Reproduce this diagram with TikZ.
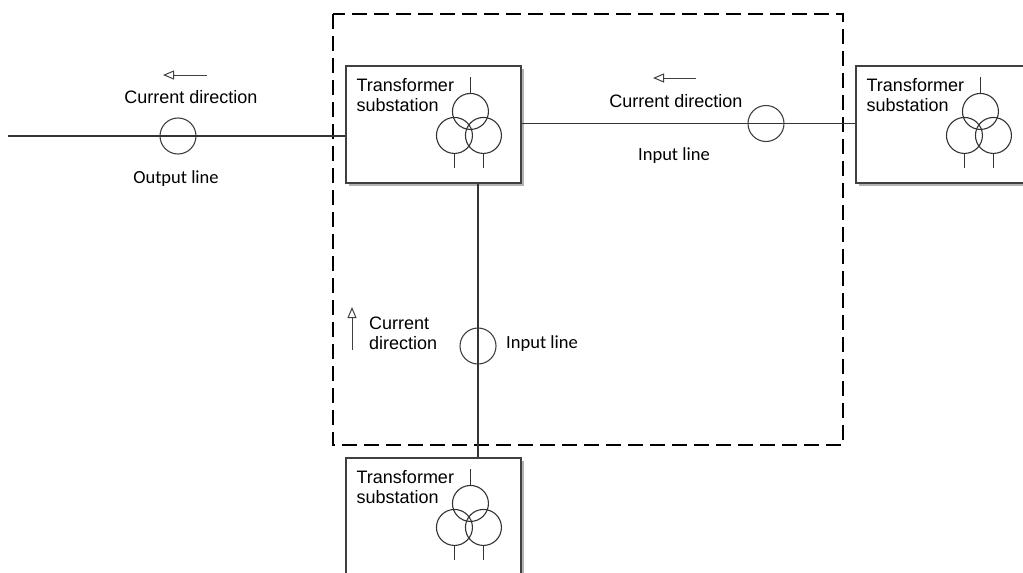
\documentclass[tikz,border=0pt]{standalone}
\usepackage{fontspec}
\setmainfont{Liberation Sans}
\newfontfamily\linefont{Carlito}
\usetikzlibrary{arrows.meta}
\usetikzlibrary{shadows}

\begin{document}
\begin{tikzpicture}[x=1pt,y=-1pt,
  every node/.style={inner sep=0pt,font=\fontsize{18}{20.5}\selectfont},
  substation/.style={draw=black!75,fill=white,line width=1.1pt,minimum width=175pt,minimum height=117pt,
    drop shadow={shadow xshift=2.5pt,shadow yshift=-2.5pt,fill=black!30,opacity=1}},
  ct/.style={draw=black!75,line width=1.1pt,circle,minimum size=36pt},
  wire/.style={black!80,line width=1.1pt},
  flow/.style={black!75,line width=1pt,-{Triangle[open,length=11pt,width=9pt]}},
  tag/.style={font=\linefont\fontsize{18.5}{21}\selectfont}]
  \useasboundingbox (0,0) rectangle (1023,573);

  % dashed zone round the middle substation
  \draw[line width=2.5pt,dash pattern=on 15pt off 7pt] (333,14) rectangle (843,445);

  % substations
  \node[substation] (main)  at (433.5,124.5) {};
  \node[substation] (east)  at (943.5,124.5) {};
  \node[substation] (south) at (433.5,516.5) {};

  \foreach \s in {main,east,south} {
    \node[anchor=north west,align=left] at ([shift={(11,12.5)}]\s.north west) {Transformer\\substation};
    \draw[wire] ([shift={(125,46)}]\s.north west) circle [radius=18pt];
    \draw[wire] ([shift={(109,70)}]\s.north west) circle [radius=18pt];
    \draw[wire] ([shift={(138,70)}]\s.north west) circle [radius=18pt];
    \draw[wire] ([shift={(125,12)}]\s.north west) -- ([shift={(125,28)}]\s.north west);
    \draw[wire] ([shift={(109,88)}]\s.north west) -- ([shift={(109,103)}]\s.north west);
    \draw[wire] ([shift={(138,88)}]\s.north west) -- ([shift={(138,103)}]\s.north west);
  }

  % current transformers
  \node[ct] (ctw) at (178,136) {};
  \node[ct] (cte) at (766,123.5) {};
  \node[ct] (cts) at (478,346) {};

  % lines
  \coordinate (w) at (8,136);
  \draw[wire] (w) -- (ctw.center) -- (ctw.center -| main.west);
  \draw[wire] (main.east |- cte) -- (cte.center) -- (cte.center -| east.west);
  \draw[wire] (cts |- main.south) -- (cts.center) -- (cts |- south.north);

  % labels
  \node[anchor=base] (cdw) at (191,103) {Current direction};
  \node[anchor=base,tag] (olw) at (176,183) {Output line};
  \node[anchor=base] (cde) at (676,107) {Current direction};
  \node[anchor=base,tag] (ile) at (674,160) {Input line};
  \node[anchor=north west,align=left] (cds) at (369,316.5) {Current\\direction};
  \node[anchor=base west,tag] (ils) at (506,348) {Input line};

  % current arrows
  \coordinate (aw1) at (207,75);  \coordinate (aw2) at (163,75);
  \coordinate (ae1) at (696,78);  \coordinate (ae2) at (653,78);
  \coordinate (as1) at (352,350); \coordinate (as2) at (352,307);
  \draw[flow] (aw1) -- (aw2);
  \draw[flow] (ae1) -- (ae2);
  \draw[flow] (as1) -- (as2);

\end{tikzpicture}
\end{document}
